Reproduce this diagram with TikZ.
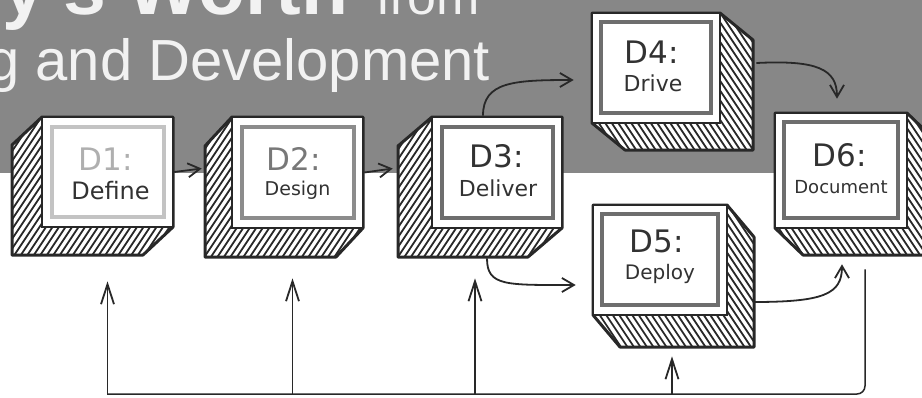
\documentclass[tikz,border=0pt]{standalone}
\usepackage{fontspec}
\setmainfont{DejaVu Sans}
\newfontfamily\titlefont{Liberation Sans}
\usetikzlibrary{arrows.meta,calc}
\definecolor{bggray}{RGB}{135,135,135}
\definecolor{ink}{RGB}{40,40,40}
\definecolor{fra}{RGB}{195,195,195}
\definecolor{frb}{RGB}{140,140,140}
\definecolor{frc}{RGB}{110,110,110}
\definecolor{lbla}{RGB}{175,175,175}
\definecolor{lblb}{RGB}{120,120,120}
\definecolor{txt}{RGB}{50,50,50}
\tikzset{
  hatchline/.style={line width=1.8pt, draw=ink},
  outl/.style={line width=3pt, draw=ink, line join=round},
  face/.style={draw=ink, line width=2.6pt, fill=white, inner sep=0pt, rectangle},
  arr/.style={draw=ink, line width=1.8pt, -{Straight Barb[length=12pt,width=14pt]}},
  uparr/.style={draw=ink, line width=1.8pt, -{Straight Barb[length=20pt,width=13pt]}},
  flow/.style={draw=ink, line width=1.5pt},
  dlab/.style={font=\fontsize{31}{31}\selectfont},
  nlab/.style={text=txt},
  ttl/.style={anchor=base west, inner sep=0pt, text=white!95!black},
}
\newcommand{\fs}[1]{\fontsize{#1}{#1}\selectfont}
% box with depth to the lower left
\newcommand{\lbox}[8]{%
  \pgfmathsetmacro\bxo{#2+(#6)}\pgfmathsetmacro\byo{#3+(#7)}%
  \pgfmathsetmacro\bxp{#4+(#6)}\pgfmathsetmacro\byp{#5+(#7)}%
  \coordinate (#1A) at (#2,#3); \coordinate (#1B) at (#4,#3);
  \coordinate (#1C) at (#4,#5); \coordinate (#1D) at (#2,#5);
  \coordinate (#1Ao) at (\bxo,\byo); \coordinate (#1Co) at (\bxp,\byp);
  \coordinate (#1Do) at (\bxo,\byp);
  \begin{scope}
    \clip (#1A) -- (#1Ao) -- (#1Do) -- (#1Co) -- (#1C) -- (#1B) -- cycle;
    \fill[white] ({#2-60},{#3-20}) rectangle ({#4+20},{#5+60});
    \foreach \k in {0,6.5,...,330} \draw[hatchline] ({#2-150+\k},{#5+#7+8}) -- ++(120,-180);
  \end{scope}
  \draw[outl] (#1A) -- (#1Ao) -- (#1Do) -- (#1Co) -- (#1C) -- (#1B) -- cycle;
  \node[face, minimum width={(#4-#2)*1pt}, minimum height={(#5-#3)*1pt}] (#1) at ({(#2+#4)/2},{(#3+#5)/2}) {};
  \draw[draw=#8, line width=4pt] ({#2+10},{#3+10}) rectangle ({#4-9},{#5-10});
}
% box with depth to the lower right
\newcommand{\rbox}[8]{%
  \pgfmathsetmacro\bxo{#2+(#6)}\pgfmathsetmacro\byo{#3+(#7)}%
  \pgfmathsetmacro\bxp{#4+(#6)}\pgfmathsetmacro\byp{#5+(#7)}%
  \coordinate (#1A) at (#2,#3); \coordinate (#1B) at (#4,#3);
  \coordinate (#1C) at (#4,#5); \coordinate (#1D) at (#2,#5);
  \coordinate (#1Bo) at (\bxp,\byo); \coordinate (#1Co) at (\bxp,\byp);
  \coordinate (#1Do) at (\bxo,\byp);
  \begin{scope}
    \clip (#1A) -- (#1B) -- (#1Bo) -- (#1Co) -- (#1Do) -- (#1D) -- cycle;
    \fill[white] ({#2-20},{#3-20}) rectangle ({#4+60},{#5+60});
    \foreach \k in {0,6.5,...,340} \draw[hatchline] ({#2-150+\k},{#3-8}) -- ++(120,180);
  \end{scope}
  \draw[outl] (#1A) -- (#1B) -- (#1Bo) -- (#1Co) -- (#1Do) -- (#1D) -- cycle;
  \node[face, minimum width={(#4-#2)*1pt}, minimum height={(#5-#3)*1pt}] (#1) at ({(#2+#4)/2},{(#3+#5)/2}) {};
  \draw[draw=#8, line width=4pt] ({#2+9},{#3+9}) rectangle ({#4-9},{#5-10});
}
\begin{document}
\begin{tikzpicture}[x=1pt,y=-1pt]
\useasboundingbox (0,0) rectangle (922,397);
\clip (0,0) rectangle (922,397);
\fill[white] (0,0) rectangle (922,397);
\fill[bggray] (0,0) rectangle (922,173);
% title
\node[ttl, font=\titlefont\bfseries\fs{77}] (ttla) at (2,14) {y's Worth};
\node[ttl, font=\titlefont\fs{52}] (ttlb) at (376,14) {from};
\node[ttl, font=\titlefont\fs{58}] (ttlc) at (-13,80) {g and Development};
% boxes
\lbox{d1}{42}{117}{173}{227}{-30}{28}{fra}
\lbox{d2}{232}{117}{363}{228}{-27}{29}{frb}
\lbox{d3}{432}{117}{562}{228}{-34}{29}{frc}
\rbox{d4}{592}{13}{720}{123}{33}{27}{frc}
\rbox{d5}{593}{205}{727}{315}{27}{32}{frc}
\rbox{d6}{775}{113}{907}{228}{28}{27}{frc}
% labels
\node[dlab, text=lbla] (l1a) at ($(d1.north)+(-2,43)$) {D1:};
\node[nlab, font=\fs{24}] (l1b) at ($(d1.north)+(3,75)$) {Define};
\node[dlab, text=lblb] (l2a) at ($(d2.north)+(-4,43)$) {D2:};
\node[nlab, font=\fs{19}] (l2b) at ($(d2.north)+(0,75)$) {Design};
\node[dlab, text=txt] (l3a) at ($(d3.north)+(0,41)$) {D3:};
\node[nlab, font=\fs{22}] (l3b) at ($(d3.north)+(1,73)$) {Deliver};
\node[dlab, text=txt] (l4a) at ($(d4.north)+(-4,40)$) {D4:};
\node[nlab, font=\fs{22}] (l4b) at ($(d4.north)+(-3,72)$) {Drive};
\node[dlab, text=txt] (l5a) at ($(d5.north)+(-3,38)$) {D5:};
\node[nlab, font=\fs{20}] (l5b) at ($(d5.north)+(0,70)$) {Deploy};
\node[dlab, text=txt] (l6a) at ($(d6.north)+(-1,44)$) {D6:};
\node[nlab, font=\fs{18}] (l6b) at ($(d6.north)+(0,75)$) {Document};
% forward arrows
\draw[arr] (d1.east) -- ($(d2.west)+(-29,-4)$);
\draw[arr] (d2.east) -- ($(d3.west)+(-38,-4)$);
\draw[arr] ($(d3.north)+(-14,0)$) .. controls +(0,-34) and +(-60,0) .. ($(d4.west)+(-17,12)$);
\draw[arr] ($(d3.south)+(-10,29)$) .. controls +(0,28) and +(-70,0) .. ($(d5.west)+(-16,25)$);
\draw[arr] ($(d4.east)+(35,-5)$) .. controls +(60,-3) and +(0,-30) .. ($(d6.north)+(-4,-13)$);
\draw[arr] ($(d5.east)+(25,42)$) .. controls +(70,0) and +(0,30) .. ($(d6.south)+(1,35)$);
% feedback loop
\coordinate (fbl) at (107,394);
\coordinate (fbr) at ($(d6.south)+(24,40)$);
\coordinate (t1) at ($(d1.south)+(0,53)$);
\coordinate (t2) at ($(d2.south)+(-5,49)$);
\coordinate (t3) at ($(d3.south)+(-22,49)$);
\coordinate (t5) at ($(d5.south)+(12,40)$);
\draw[flow, rounded corners=8pt] (fbr) |- (fbl);
\draw[uparr] (t1 |- fbl) -- (t1);
\draw[uparr] (t2 |- fbl) -- (t2);
\draw[uparr] (t3 |- fbl) -- (t3);
\draw[uparr] (t5 |- fbl) -- (t5);
\end{tikzpicture}
\end{document}
